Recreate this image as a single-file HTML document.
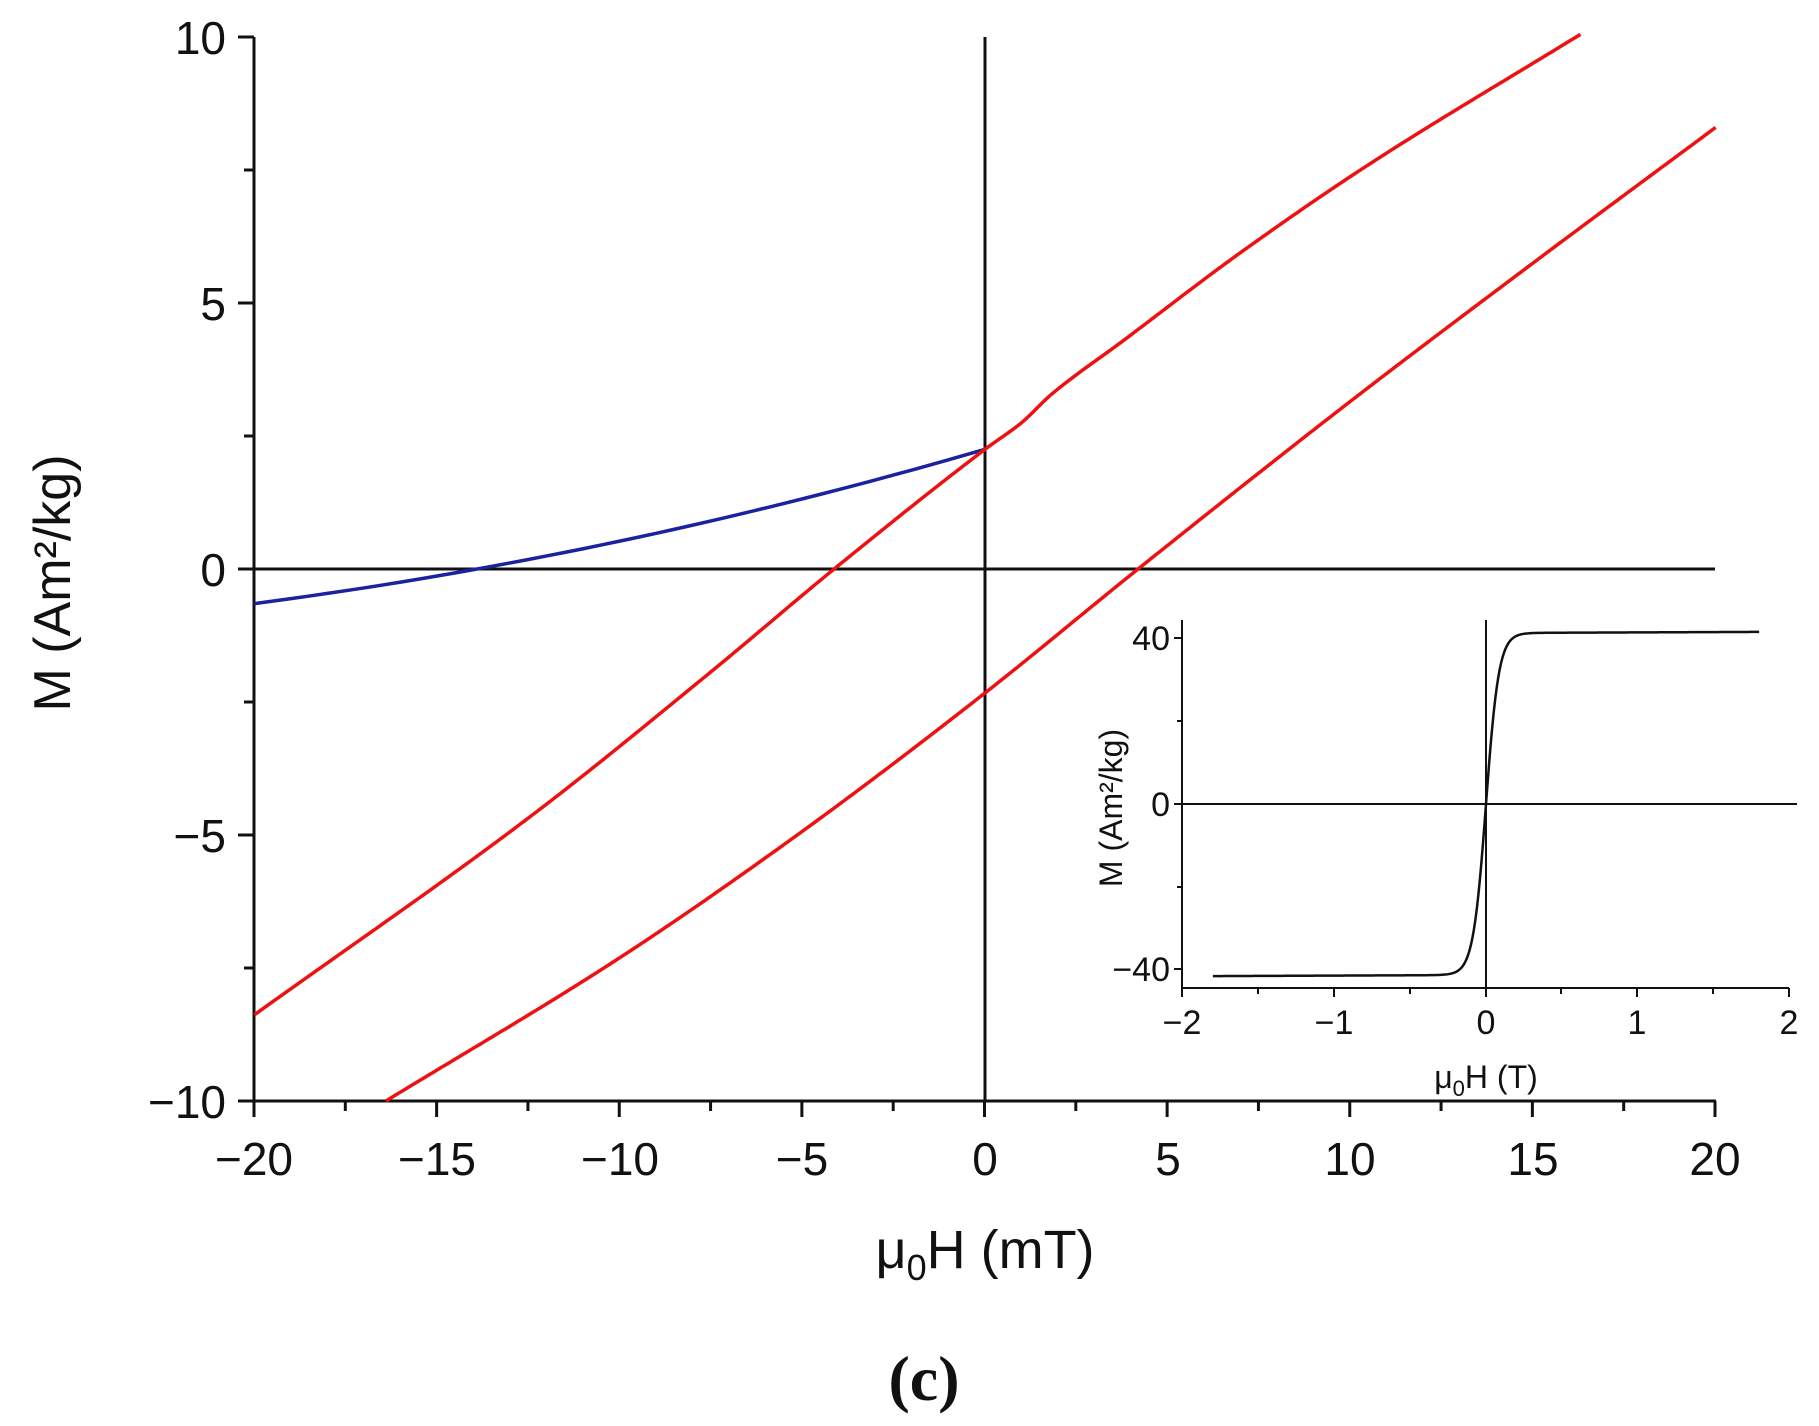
<!DOCTYPE html>
<html><head><meta charset="utf-8"><style>
html,body{margin:0;padding:0;background:#fff;}
svg{display:block;}
text{font-family:"Liberation Sans",Arial,sans-serif;fill:#111;}
</style></head><body>
<svg width="1819" height="1426" viewBox="0 0 1819 1426" xmlns="http://www.w3.org/2000/svg">
<g stroke="#111" stroke-width="3" fill="none">
<line x1="254" y1="37" x2="254" y2="1102"/>
<line x1="252" y1="1101" x2="1716" y2="1101"/>
<line x1="985" y1="37" x2="985" y2="1101"/>
<line x1="254" y1="569" x2="1715" y2="569"/>
<line x1="238" y1="37" x2="254" y2="37"/><line x1="244" y1="170" x2="254" y2="170"/>
<line x1="238" y1="303" x2="254" y2="303"/><line x1="244" y1="436" x2="254" y2="436"/>
<line x1="238" y1="569" x2="254" y2="569"/><line x1="244" y1="702" x2="254" y2="702"/>
<line x1="238" y1="835" x2="254" y2="835"/><line x1="244" y1="968" x2="254" y2="968"/>
<line x1="238" y1="1101" x2="254" y2="1101"/>
<g id="xt"></g>
</g>
<g transform="translate(985,569) scale(36.53,-53.2)" fill="none" stroke-linejoin="round">
<polyline id="blue" vector-effect="non-scaling-stroke" stroke="#1a22a0" stroke-width="3.5" points=""/>
<polyline id="r1" vector-effect="non-scaling-stroke" stroke="#ee1111" stroke-width="3.5" points=""/>
<polyline id="r2" vector-effect="non-scaling-stroke" stroke="#ee1111" stroke-width="3.5" points=""/>
</g>
<g font-size="46" text-anchor="end">
<text x="226" y="54">10</text><text x="226" y="320">5</text><text x="226" y="586">0</text>
<text x="226" y="852">−5</text><text x="226" y="1118">−10</text>
</g>
<g font-size="46" text-anchor="middle">
<text x="254" y="1175">−20</text><text x="437" y="1175">−15</text><text x="620" y="1175">−10</text>
<text x="802" y="1175">−5</text><text x="985" y="1175">0</text><text x="1168" y="1175">5</text>
<text x="1350" y="1175">10</text><text x="1533" y="1175">15</text><text x="1715" y="1175">20</text>
</g>
<text x="985" y="1268" font-size="54" text-anchor="middle">μ<tspan font-size="36" dy="12">0</tspan><tspan dy="-12">H (mT)</tspan></text>
<text transform="translate(70,583) rotate(-90)" font-size="52" text-anchor="middle">M (Am²/kg)</text>
<text x="924" y="1400" font-size="64" font-weight="bold" text-anchor="middle" style="font-family:'Liberation Serif',serif">(c)</text>
<g stroke="#111" stroke-width="2" fill="none">
<line x1="1182" y1="620" x2="1182" y2="989"/>
<line x1="1181" y1="988" x2="1789" y2="988"/>
<line x1="1486" y1="620" x2="1486" y2="988"/>
<line x1="1182" y1="804" x2="1797" y2="804"/>
<line x1="1174" y1="638" x2="1182" y2="638"/><line x1="1177" y1="721" x2="1182" y2="721"/>
<line x1="1174" y1="804" x2="1182" y2="804"/><line x1="1177" y1="887" x2="1182" y2="887"/>
<line x1="1174" y1="969" x2="1182" y2="969"/>
<line x1="1182" y1="988" x2="1182" y2="997"/><line x1="1258" y1="988" x2="1258" y2="994"/>
<line x1="1334" y1="988" x2="1334" y2="997"/><line x1="1410" y1="988" x2="1410" y2="994"/>
<line x1="1486" y1="988" x2="1486" y2="997"/><line x1="1561" y1="988" x2="1561" y2="994"/>
<line x1="1637" y1="988" x2="1637" y2="997"/><line x1="1713" y1="988" x2="1713" y2="994"/>
<line x1="1789" y1="988" x2="1789" y2="997"/>
</g>
<g transform="translate(1486,804) scale(151.75,-4.14)" fill="none">
<polyline id="ins" vector-effect="non-scaling-stroke" stroke="#111" stroke-width="2.5" stroke-linejoin="round" points=""/>
</g>
<g font-size="34" text-anchor="end">
<text x="1170" y="650">40</text><text x="1170" y="816">0</text><text x="1170" y="981">−40</text>
</g>
<g font-size="34" text-anchor="middle">
<text x="1182" y="1034">−2</text><text x="1334" y="1034">−1</text><text x="1486" y="1034">0</text>
<text x="1637" y="1034">1</text><text x="1789" y="1034">2</text>
</g>
<text x="1486" y="1088" font-size="32" text-anchor="middle">μ<tspan font-size="22" dy="8">0</tspan><tspan dy="-8">H (T)</tspan></text>
<text transform="translate(1122,808) rotate(-90)" font-size="32" text-anchor="middle">M (Am²/kg)</text>
</svg>
<script>
var NS="http://www.w3.org/2000/svg";
var xt=document.getElementById("xt");
for(var i=0;i<=16;i++){var x=254+i*1461/16;var l=document.createElementNS(NS,"line");
l.setAttribute("x1",x);l.setAttribute("x2",x);l.setAttribute("y1",1101);l.setAttribute("y2",i%2?1111:1117);xt.appendChild(l);}
function mono(p,step){var n=p.length,d=[],m=[];
for(var i=0;i<n-1;i++)d.push((p[i+1][1]-p[i][1])/(p[i+1][0]-p[i][0]));
m[0]=d[0];m[n-1]=d[n-2];
for(var i=1;i<n-1;i++){m[i]=(d[i-1]*d[i]<=0)?0:2/(1/d[i-1]+1/d[i]);}
var o=[];
for(var i=0;i<n-1;i++){var x0=p[i][0],x1=p[i+1][0],h=x1-x0,y0=p[i][1],y1=p[i+1][1];
for(var x=x0;x<x1-1e-9;x+=step){var t=(x-x0)/h,t2=t*t,t3=t2*t;
var y=(2*t3-3*t2+1)*y0+(t3-2*t2+t)*h*m[i]+(-2*t3+3*t2)*y1+(t3-t2)*h*m[i+1];
o.push(x.toFixed(3)+","+y.toFixed(3));}}
var e=p[n-1];o.push(e[0]+","+e[1]);return o.join(" ");}
var b=[];for(var h=-20;h<=0.001;h+=0.5){b.push(h.toFixed(2)+","+(0.002766*h*h+0.2003*h+2.25).toFixed(3));}
document.getElementById("blue").setAttribute("points",b.join(" "));
document.getElementById("r1").setAttribute("points",mono([[-20,-8.38],[-12.46,-4.66],[-7.55,-1.96],[-4.13,0],[0,2.25],[1,2.75],[1.83,3.29],[3.78,4.29],[7,5.95],[10.5,7.6],[16.3,10.05]],0.1));
document.getElementById("r2").setAttribute("points",mono([[-16.4,-10],[-10.05,-7.33],[-5.06,-4.96],[0,-2.33],[4.19,0],[10,3.15],[15,5.75],[20,8.3]],0.1));
var ins=[];for(var h=-1.8;h<=1.8001;h+=0.01){var m=41.3*Math.tanh(h/0.085)+0.15*h;ins.push(h.toFixed(3)+","+m.toFixed(3));}
document.getElementById("ins").setAttribute("points",ins.join(" "));
</script>
</body></html>
